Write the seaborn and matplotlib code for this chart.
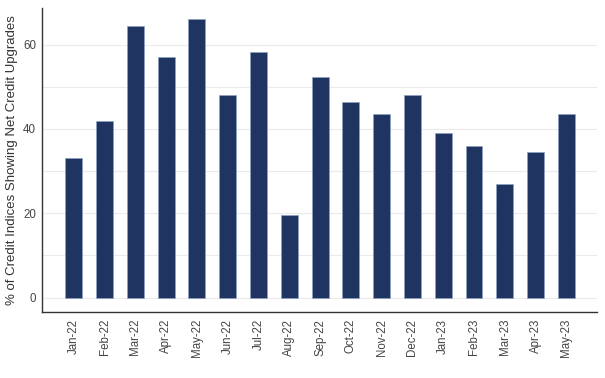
import matplotlib
matplotlib.use('Agg')
import matplotlib.pyplot as plt
import seaborn as sns
import pandas as pd

months = ['Jan-22', 'Feb-22', 'Mar-22', 'Apr-22', 'May-22', 'Jun-22', 'Jul-22',
          'Aug-22', 'Sep-22', 'Oct-22', 'Nov-22', 'Dec-22', 'Jan-23', 'Feb-23',
          'Mar-23', 'Apr-23', 'May-23']
pct_upgrades = [33, 42, 64.4, 57, 66, 48, 58.3, 19.6, 52.3, 46.5, 43.5, 48,
                39, 36, 27, 34.5, 43.5]

df = pd.DataFrame({'month': months, 'pct': pct_upgrades})

sns.set_style('white')
plt.rcParams['font.family'] = ['Liberation Sans', 'DejaVu Sans']

fig = plt.figure(figsize=(6.05, 3.78), dpi=100)
ax = fig.add_axes([0.069, 0.175, 0.918, 0.805])

for y in [0, 10, 20, 30, 40, 50, 60]:
    ax.axhline(y, color='#ebebeb', lw=0.8, zorder=0)

sns.barplot(data=df, x='month', y='pct', color='#1f3461', width=0.55,
            edgecolor='#8fa3c4', linewidth=0.5, saturation=1, ax=ax, zorder=2)

ax.set_xlim(-1.04, 17.0)
ax.set_ylim(-3.4, 68.8)
ax.set_yticks([0, 20, 40, 60])
ax.set_xlabel('')
ax.set_ylabel('% of Credit Indices Showing Net Credit Upgrades', fontsize=9.5, color='#333333')
ax.tick_params(axis='x', rotation=90, labelsize=8.3, colors='#444444', length=0, pad=5)
ax.tick_params(axis='y', labelsize=8.3, colors='#444444', length=0, pad=4)
for lab in ax.get_xticklabels():
    lab.set_verticalalignment('top')

sns.despine(ax=ax)
ax.spines['left'].set_color('#333333')
ax.spines['bottom'].set_color('#333333')
ax.spines['left'].set_linewidth(1.0)
ax.spines['bottom'].set_linewidth(1.0)

fig.savefig('out.png', dpi=100)
